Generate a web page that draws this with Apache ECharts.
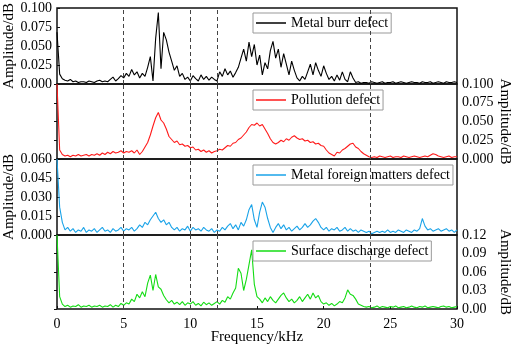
<!DOCTYPE html>
<html>
<head>
<meta charset="utf-8">
<script src="https://cdn.jsdelivr.net/npm/echarts@6/dist/echarts.min.js"></script>
<style>
  html, body { margin: 0; padding: 0; background: #fff; }
  #chart { width: 512px; height: 344px; }
</style>
</head>
<body>
<div id="chart"></div>
<script>
// sampling step of the spectra, kHz
const STEP = 0.2;

// amplitude / dB, one value every 0.2 kHz from 0 to 30 kHz
const burr = [
  0.068, 0.013, 0.007, 0.005, 0.004, 0.006, 0.003, 0.004, 0.002, 0.003,
  0.003, 0.002, 0.004, 0.003, 0.002, 0.004, 0.005, 0.003, 0.004, 0.003,
  0.006, 0.009, 0.004, 0.007, 0.011, 0.008, 0.014, 0.010, 0.019, 0.012,
  0.016, 0.008, 0.014, 0.010, 0.022, 0.036, 0.004, 0.060, 0.094, 0.020,
  0.068, 0.058, 0.042, 0.030, 0.018, 0.024, 0.010, 0.014, 0.006, 0.009,
  0.004, 0.011, 0.007, 0.004, 0.012, 0.006, 0.010, 0.005, 0.009, 0.006,
  0.004, 0.016, 0.010, 0.020, 0.012, 0.017, 0.009, 0.015, 0.022, 0.034,
  0.046, 0.030, 0.055, 0.036, 0.052, 0.025, 0.038, 0.012, 0.028, 0.020,
  0.044, 0.056, 0.034, 0.046, 0.022, 0.040, 0.026, 0.012, 0.030, 0.018,
  0.008, 0.004, 0.010, 0.006, 0.016, 0.026, 0.012, 0.028, 0.018, 0.010,
  0.024, 0.014, 0.006, 0.010, 0.004, 0.012, 0.005, 0.016, 0.006, 0.003,
  0.016, 0.008, 0.002, 0.003, 0.001, 0.002,
  0.002, 0.001, 0.003, 0.002, 0.001, 0.002, 0.003, 0.001, 0.002, 0.002,
  0.003, 0.001, 0.002, 0.003, 0.002, 0.001, 0.002, 0.003, 0.002, 0.002,
  0.001, 0.003, 0.002, 0.002, 0.003, 0.001, 0.002, 0.003, 0.002, 0.001,
  0.003, 0.002, 0.002, 0.003, 0.002
];
const pollution = [
  0.100, 0.012, 0.006, 0.004, 0.005, 0.003, 0.005, 0.004, 0.006, 0.004,
  0.005, 0.006, 0.004, 0.006, 0.005, 0.007, 0.005, 0.008, 0.006, 0.009,
  0.007, 0.010, 0.008, 0.009, 0.011, 0.008, 0.010, 0.009, 0.011, 0.008,
  0.012, 0.006, 0.010, 0.016, 0.022, 0.032, 0.044, 0.055, 0.062, 0.052,
  0.048, 0.040, 0.030, 0.026, 0.022, 0.024, 0.019, 0.020, 0.017, 0.018,
  0.015, 0.016, 0.012, 0.013, 0.010, 0.012, 0.009, 0.011, 0.008, 0.010,
  0.011, 0.013, 0.012, 0.015, 0.018, 0.017, 0.021, 0.022, 0.026, 0.028,
  0.032, 0.036, 0.042, 0.046, 0.045, 0.048, 0.044, 0.046, 0.040, 0.034,
  0.027, 0.022, 0.020, 0.022, 0.025, 0.023, 0.027, 0.025, 0.029, 0.031,
  0.028, 0.026, 0.027, 0.024, 0.025, 0.022, 0.023, 0.020, 0.021, 0.018,
  0.017, 0.012, 0.008, 0.006, 0.004, 0.009, 0.008, 0.012, 0.014, 0.017,
  0.020, 0.021, 0.016, 0.014, 0.010, 0.007,
  0.005, 0.003, 0.002, 0.003, 0.002, 0.004, 0.003, 0.002, 0.003, 0.004,
  0.002, 0.003, 0.003, 0.002, 0.004, 0.003, 0.002, 0.003, 0.004, 0.003,
  0.002, 0.003, 0.004, 0.003, 0.005, 0.007, 0.006, 0.004, 0.003, 0.002,
  0.003, 0.004, 0.002, 0.003, 0.003
];
const foreign = [
  0.060, 0.022, 0.010, 0.004, 0.006, 0.003, 0.005, 0.002, 0.004, 0.003,
  0.006, 0.002, 0.004, 0.003, 0.005, 0.002, 0.004, 0.006, 0.003, 0.004,
  0.002, 0.005, 0.003, 0.004, 0.006, 0.003, 0.005, 0.004, 0.006, 0.003,
  0.005, 0.008, 0.006, 0.010, 0.008, 0.012, 0.015, 0.018, 0.013, 0.010,
  0.012, 0.008, 0.010, 0.006, 0.004, 0.006, 0.003, 0.005, 0.004, 0.007,
  0.003, 0.006, 0.004, 0.005, 0.003, 0.006, 0.004, 0.003, 0.005, 0.002,
  0.004, 0.003, 0.006, 0.004, 0.007, 0.009, 0.005, 0.008, 0.004, 0.010,
  0.007, 0.012, 0.020, 0.024, 0.012, 0.006, 0.018, 0.026, 0.022, 0.013,
  0.006, 0.002, 0.006, 0.009, 0.005, 0.008, 0.004, 0.006, 0.003, 0.005,
  0.007, 0.004, 0.006, 0.009, 0.006, 0.008, 0.011, 0.013, 0.010, 0.006,
  0.004, 0.006, 0.003, 0.005, 0.004, 0.006, 0.003, 0.004, 0.006, 0.003,
  0.005, 0.003, 0.004, 0.002, 0.004, 0.003,
  0.002, 0.003, 0.001, 0.002, 0.003, 0.002, 0.003, 0.002, 0.004, 0.002,
  0.003, 0.002, 0.004, 0.003, 0.002, 0.004, 0.003, 0.002, 0.004, 0.003,
  0.005, 0.013, 0.007, 0.004, 0.005, 0.003, 0.004, 0.005, 0.003, 0.004,
  0.005, 0.003, 0.004, 0.002, 0.004
];
const surface = [
  0.120, 0.020, 0.008, 0.004, 0.006, 0.003, 0.005, 0.004, 0.007, 0.003,
  0.005, 0.004, 0.006, 0.003, 0.005, 0.004, 0.006, 0.003, 0.005, 0.004,
  0.007, 0.003, 0.006, 0.004, 0.009, 0.006, 0.010, 0.008, 0.016, 0.012,
  0.024, 0.018, 0.028, 0.020, 0.042, 0.055, 0.030, 0.056, 0.036, 0.032,
  0.022, 0.015, 0.010, 0.014, 0.008, 0.011, 0.007, 0.012, 0.006, 0.010,
  0.008, 0.012, 0.006, 0.009, 0.005, 0.011, 0.007, 0.010, 0.006, 0.009,
  0.012, 0.008, 0.014, 0.011, 0.020, 0.016, 0.026, 0.034, 0.066, 0.058,
  0.030, 0.048, 0.072, 0.096, 0.040, 0.020, 0.016, 0.010, 0.018, 0.012,
  0.020, 0.014, 0.010, 0.016, 0.022, 0.026, 0.018, 0.012, 0.016, 0.010,
  0.014, 0.020, 0.012, 0.018, 0.024, 0.016, 0.026, 0.018, 0.022, 0.012,
  0.008, 0.010, 0.006, 0.009, 0.005, 0.008, 0.012, 0.010, 0.018, 0.031,
  0.024, 0.022, 0.016, 0.008, 0.006, 0.004,
  0.003, 0.004, 0.002, 0.003, 0.005, 0.002, 0.004, 0.003, 0.002, 0.004,
  0.003, 0.005, 0.002, 0.003, 0.004, 0.002, 0.003, 0.005, 0.003, 0.002,
  0.004, 0.003, 0.005, 0.002, 0.003, 0.004, 0.003, 0.002, 0.004, 0.005,
  0.003, 0.004, 0.002, 0.003, 0.004
];

const names = ['Metal burr defect', 'Pollution defect', 'Metal foreign matters defect', 'Surface discharge defect'];
const colors = ['#000000', '#ff1a1a', '#1aa3e8', '#14dc14'];
const yMax = [0.1, 0.1, 0.06, 0.12];
const yStep = [0.025, 0.025, 0.015, 0.03];
const yDigits = [3, 3, 3, 2];
const ySide = ['left', 'right', 'left', 'right'];
const dashedFreqs = [5, 10, 12, 23.5];
const allData = [burr, pollution, foreign, surface];

const FONT = 'Liberation Serif';
const tops = [8, 84, 159, 235];
const heights = [76, 75, 76, 74];

const chart = echarts.init(document.getElementById('chart'), null, {renderer: 'canvas'});

const grid = tops.map((t, i) => ({
  left: 57, right: 55, top: t, height: heights[i],
  containLabel: false, outerBoundsMode: 'none',
  show: true, borderColor: '#111', borderWidth: 1.5, backgroundColor: 'transparent'
}));

const xAxis = tops.map((t, i) => {
  const last = i === 3;
  return {
    type: 'value', gridIndex: i, min: 0, max: 30, interval: 5,
    axisLine: {show: false},
    axisTick: {show: last, inside: true, length: 3, lineStyle: {color: '#111'}},
    axisLabel: {show: last, color: '#000', fontFamily: FONT, fontSize: 14, margin: 8},
    splitLine: {show: false},
    name: last ? 'Frequency/kHz' : '',
    nameLocation: 'middle', nameGap: 21, nameMoveOverlap: false,
    nameTextStyle: {color: '#000', fontFamily: FONT, fontSize: 15}
  };
});

const yAxis = tops.map((t, i) => ({
  type: 'value', gridIndex: i, position: ySide[i],
  min: 0, max: yMax[i], interval: yStep[i],
  axisLine: {show: false},
  axisTick: {show: true, inside: true, length: 3, lineStyle: {color: '#111'}},
  axisLabel: {
    color: '#000', fontFamily: FONT, fontSize: 14, margin: 5,
    showMinLabel: true, showMaxLabel: true,
    formatter: v => v.toFixed(yDigits[i])
  },
  splitLine: {show: false},
  name: 'Amplitude/dB', nameLocation: 'middle', nameGap: 40, nameMoveOverlap: false,
  nameRotate: ySide[i] === 'left' ? 90 : -90,
  nameTextStyle: {color: '#000', fontFamily: FONT, fontSize: 15}
}));

const series = allData.map((arr, i) => ({
  name: names[i], type: 'line', xAxisIndex: i, yAxisIndex: i,
  showSymbol: false, animation: false,
  lineStyle: {color: colors[i], width: 1.1},
  itemStyle: {color: colors[i]},
  data: arr.map((v, k) => [+(k * STEP).toFixed(1), v]),
  markLine: {
    silent: true, symbol: 'none', label: {show: false},
    lineStyle: {color: '#444', width: 1, type: [4, 3]},
    data: dashedFreqs.map(f => ({xAxis: f}))
  }
}));

const legendTops = [13, 90, 165, 241];
const legend = names.map((n, i) => ({
  data: [n], left: 253, top: legendTops[i], orient: 'horizontal',
  selectedMode: false, icon: 'rect', itemWidth: 30, itemHeight: 1.5,
  padding: [3, 3, 3, 3], borderColor: '#999', borderWidth: 1,
  textStyle: {color: '#000', fontFamily: FONT, fontSize: 14}
}));

chart.setOption({
  animation: false,
  textStyle: {fontFamily: FONT},
  grid: grid, xAxis: xAxis, yAxis: yAxis, legend: legend, series: series
});
</script>
</body>
</html>
